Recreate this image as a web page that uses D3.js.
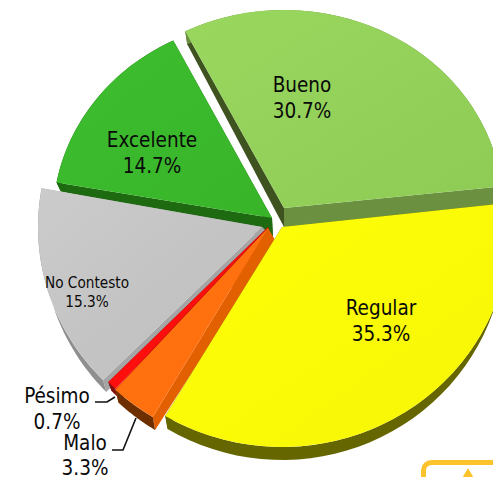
<!DOCTYPE html>
<html>
<head>
<meta charset="utf-8">
<script src="https://cdn.jsdelivr.net/npm/d3@7"></script>
<style>
  html, body { margin: 0; padding: 0; background: #fff; }
  svg { display: block; }
  text { font-family: "DejaVu Sans Condensed", "DejaVu Sans", sans-serif; fill: #0a0a0a; text-anchor: middle; }
</style>
</head>
<body>
<svg id="chart" width="493" height="477"></svg>
<script>
// chart values
var categories = ["Bueno", "Regular", "Malo", "Pésimo", "No Contesto", "Excelente"];
var percents = [30.7, 35.3, 3.3, 0.7, 15.3, 14.7];

// slice look, same order as categories
var topLight = ["#9ad75f", "#ffff08", "#ff7210", "#ff1010", "#cbcbcb", "#3ebe30"];
var topDark = ["#8dcb55", "#f6f606", "#ff6e0e", "#ff0c0c", "#bdbdbd", "#38b428"];
var startWall = ["#3f5320", "#666600", "#e36000", "#d00c0c", "#a5a5a5", "#1d6a10"];
var endWall = ["#6b9140", "#666600", "#e36000", "#801010", "#a5a5a5", "#1d6a10"];
var rimWall = ["#6b9140", "#666600", "#6e2f00", "#801010", "#8f8f8f", "#1d6a10"];

// exploded apex and radii of each slice, the camera makes them differ
var apexX = [284, 282, 268, 268, 262, 272];
var apexY = [208, 227, 228, 227, 227, 218];
var radX = [219, 228, 225, 225, 224, 219];
var radY = [198, 220, 220, 220, 217, 199];

// wall height at the slice's start and end, and under the apex
var dropStart = [13, 13, 13, 9, 12, 9];
var dropEnd = [19, 13, 13, 9, 12, 9];
var apexDropX = [0, 0, 8, 3, 8, 1];
var apexDropY = [19, 13, 14, 8, 8, 20];
var wallShrink = 0.98;

// back to front
var drawOrder = [0, 5, 4, 3, 2, 1];

var svg = d3.select("#chart");
var defs = svg.append("defs");

var pie = d3.pie().sort(null)
    .startAngle(-26.8 * Math.PI / 180)
    .endAngle(333.2 * Math.PI / 180);
var arcs = pie(percents);
var line = d3.line();

// point on a slice rim, angle measured clockwise from top
function rim(i, a, dropped) {
    if (!dropped) {
        return [apexX[i] + radX[i] * Math.sin(a), apexY[i] - radY[i] * Math.cos(a)];
    }
    var d = arcs[i];
    var drop = d3.scaleLinear().domain([d.startAngle, d.endAngle]).range([dropStart[i], dropEnd[i]]);
    return [apexX[i] + wallShrink * radX[i] * Math.sin(a),
            apexY[i] - radY[i] * Math.cos(a) + drop(a)];
}

categories.forEach(function(c, i){
    var grad = defs.append("linearGradient")
        .attr("id", "top" + i)
        .attr("x1", 0).attr("y1", 0).attr("x2", 1).attr("y2", 1);
    grad.append("stop").attr("offset", 0).attr("stop-color", topLight[i]);
    grad.append("stop").attr("offset", 1).attr("stop-color", topDark[i]);
});

drawOrder.forEach(function(i){
    var d = arcs[i];
    var g = svg.append("g").attr("class", "slice");
    var ax = apexX[i], ay = apexY[i];
    var apexLow = [ax + apexDropX[i], ay + apexDropY[i]];

    // radial walls
    g.append("path")
        .attr("d", line([[ax, ay], rim(i, d.endAngle), rim(i, d.endAngle, true), apexLow]) + "Z")
        .attr("fill", endWall[i]);
    g.append("path")
        .attr("d", line([[ax, ay], rim(i, d.startAngle), rim(i, d.startAngle, true), apexLow]) + "Z")
        .attr("fill", startWall[i]);

    // rim wall
    var t = d3.scaleLinear().domain([0, 40]).range([d.startAngle, d.endAngle]);
    var steps = d3.range(0, 41);
    var upper = steps.map(function(s){ return rim(i, t(s)); });
    var lower = steps.map(function(s){ return rim(i, t(s), true); }).reverse();
    g.append("path")
        .attr("d", line(upper.concat(lower)) + "Z")
        .attr("fill", rimWall[i]);

    // top face
    var arc = d3.arc().innerRadius(0).outerRadius(radX[i]);
    g.append("path")
        .attr("d", arc(d))
        .attr("transform", "translate(" + ax + "," + ay + ") scale(1," + (radY[i] / radX[i]) + ")")
        .attr("fill", "url(#top" + i + ")");
});

// labels: [category index, name x, percent x, first line y, line gap, font size]
var labelSpots = [
    [0, 302, 302, 92, 26, 20.5],
    [1, 381, 381, 315, 26, 20.5],
    [5, 152, 152, 147, 26, 20.5],
    [4, 87, 87, 288, 19, 15.2],
    [3, 57, 57, 403, 26, 20.5],
    [2, 85, 85, 450, 25, 20.5]
];
labelSpots.forEach(function(s){
    var i = s[0];
    var t = svg.append("text").attr("font-size", s[5]);
    t.append("tspan").attr("x", s[1]).attr("y", s[3]).text(categories[i]);
    t.append("tspan").attr("x", s[2]).attr("y", s[3] + s[4]).text(percents[i].toFixed(1) + "%");
});

// leader lines for the two small slices
var leaders = [
    [[95, 402], [107, 402], [115, 397]],
    [[112, 450], [123, 450], [136, 418]]
];
svg.selectAll("path.leader")
    .data(leaders)
    .enter()
    .append("path")
    .attr("class", "leader")
    .attr("d", line)
    .attr("fill", "none")
    .attr("stroke", "#111")
    .attr("stroke-width", 1.6);

// corner of the next shape, cut off by the page edge
svg.append("rect")
    .attr("x", 423.5).attr("y", 462.5)
    .attr("width", 90).attr("height", 40)
    .attr("rx", 8)
    .attr("fill", "none")
    .attr("stroke", "#fdc32d")
    .attr("stroke-width", 5);
svg.append("path")
    .attr("d", line([[468, 468], [461, 480], [475, 480]]) + "Z")
    .attr("fill", "#fdc32d");
</script>
</body>
</html>
